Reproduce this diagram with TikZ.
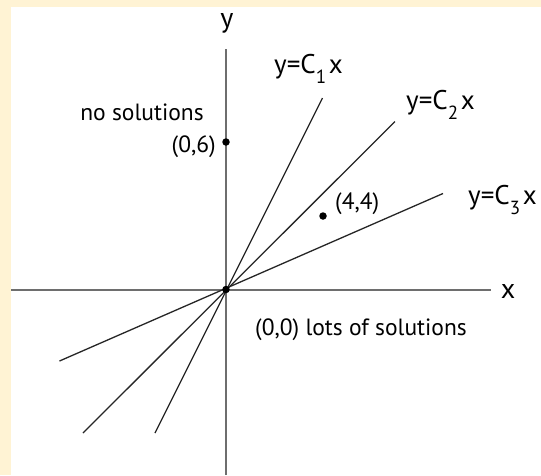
\documentclass[tikz,border=0pt]{standalone}
\usepackage{fontspec}
\setmainfont{PT Sans}
\usetikzlibrary{positioning,calc}

\definecolor{creamback}{RGB}{255,243,212}
\definecolor{axisgray}{RGB}{110,110,110}

% lowered index as in y=C_1 x
\newcommand{\lowidx}[1]{\raisebox{-0.8ex}{\fontsize{19}{19}\selectfont #1}\hspace{0.1em}}

\begin{document}
\begin{tikzpicture}[
    x=1pt, y=-1pt,
    axis/.style={draw=axisgray, line width=2pt},
    ray/.style={draw=black!85, line width=1.3pt},
    dot/.style={circle, fill=black, inner sep=0pt, minimum size=7.5pt},
    txt/.style={inner sep=0pt, font=\fontsize{23.5}{27}\selectfont},
    eqn/.style={inner sep=0pt, font=\fontsize{27}{31}\selectfont},
    axlabel/.style={inner sep=0pt, font=\fontsize{28}{32}\selectfont}
]
\useasboundingbox (0,0) rectangle (541,475);
\fill[creamback] (0,0) rectangle (541,475);
\fill[white] (11,7) rectangle (541,475);

% axes
\coordinate (o) at (226,289.5);
\coordinate (xlo) at (11,289.5);
\coordinate (xhi) at (491,289.5);
\coordinate (ylo) at (226,475);
\coordinate (yhi) at (226,49);
\draw[axis] (xlo) -- (xhi);
\draw[axis] (ylo) -- (yhi);
\node[axlabel, anchor=base] (xlab) at (508,298) {x};
\node[axlabel, anchor=base] (ylab) at (227,27) {y};

% the three lines through the origin
\coordinate (c1lo) at (155,433);
\coordinate (c1hi) at (322.5,98);
\coordinate (c2lo) at (83,433);
\coordinate (c2hi) at (395,121.5);
\coordinate (c3lo) at (59.5,361);
\coordinate (c3hi) at (443,193.5);
\draw[ray] (c1lo) -- (c1hi);
\draw[ray] (c2lo) -- (c2hi);
\draw[ray] (c3lo) -- (c3hi);

\node[eqn, anchor=base west] (eq1) at (274,73) {y=C\lowidx{1}x};
\node[eqn, anchor=base west] (eq2) at (406,109) {y=C\lowidx{2}x};
\node[eqn, anchor=base west] (eq3) at (468,204) {y=C\lowidx{3}x};

% points
\node[dot] (p00) at (o) {};
\node[dot] (p06) at (226,142) {};
\node[dot] (p44) at (323,216) {};
\node[txt, anchor=base east] (l06) at (216,152) {(0,6)};
\node[txt, anchor=base west] (l44) at (335,209) {(4,4)};
\node[txt, anchor=base west] (l00) at (255,335) {(0,0) lots of solutions};
\node[txt, anchor=base] (nosol) at (142,120) {no solutions};
\end{tikzpicture}
\end{document}
